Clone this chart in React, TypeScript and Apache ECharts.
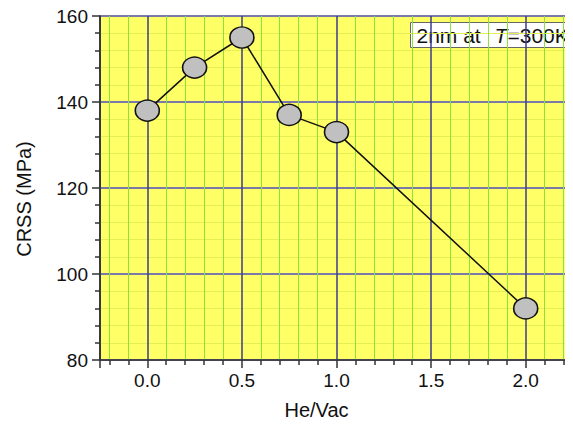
import React, { useEffect, useRef } from "react";
import * as echarts from "echarts";

const heVac = [0, 0.25, 0.5, 0.75, 1.0, 2.0];
const crss = [138, 148, 155, 137, 133, 92];
const xLabel = "He/Vac";
const yLabel = "CRSS (MPa)";

const FONT = "'Liberation Sans', Arial, sans-serif";

export default function App() {
  const ref = useRef<HTMLDivElement>(null);
  useEffect(() => {
    if (!ref.current) return;
    const chart = echarts.init(ref.current, null, { renderer: "svg" });
    const legendText = (text: string, x: number, italic = false) => ({
      type: "text",
      x,
      y: 13,
      style: {
        text,
        fontSize: 21,
        fontFamily: "Liberation Sans",
        fontStyle: italic ? "italic" : "normal",
        fill: "#111",
        verticalAlign: "middle",
        align: "left",
      },
    });
    const option: any = {
      animation: false,
      textStyle: { fontFamily: FONT },
      grid: {
        left: 100,
        right: -4,
        top: 16,
        bottom: 62,
        show: true,
        backgroundColor: "#ffff66",
        borderColor: "#333",
        borderWidth: 1.5,
        z: 0,
      },
      xAxis: {
        type: "value",
        min: -0.25,
        max: 2.25,
        splitNumber: 5,
        name: xLabel,
        nameLocation: "middle",
        nameGap: 40,
        nameTextStyle: { fontSize: 20, color: "#111", fontFamily: FONT, padding: [0, 40, 0, 0] },
        axisLine: { show: true, onZero: false, lineStyle: { color: "#333", width: 1.5 } },
        axisTick: { show: true, inside: false, length: 8, lineStyle: { color: "#333", width: 1.5 } },
        minorTick: { show: true, splitNumber: 5, length: 5, lineStyle: { color: "#333", width: 1.5 } },
        axisLabel: {
          fontSize: 19,
          color: "#111",
          fontFamily: FONT,
          margin: 11,
          showMinLabel: false,
          showMaxLabel: false,
          formatter: (v: number) => v.toFixed(1),
        },
        splitLine: { show: true, lineStyle: { color: "#3c3c8c", width: 1.5 } },
        minorSplitLine: { show: true, lineStyle: { color: "#8ee040", width: 1 } },
      },
      yAxis: {
        type: "value",
        min: 80,
        max: 160,
        interval: 20,
        name: yLabel,
        nameLocation: "middle",
        nameGap: 66,
        nameRotate: 90,
        nameTextStyle: { fontSize: 20, color: "#111", fontFamily: FONT, padding: [0, 22, 0, 0] },
        axisLine: { show: true, onZero: false, lineStyle: { color: "#333", width: 1.5 } },
        axisTick: { show: true, inside: false, length: 8, lineStyle: { color: "#333", width: 1.5 } },
        minorTick: { show: true, splitNumber: 5, length: 5, lineStyle: { color: "#333", width: 1.5 } },
        axisLabel: { fontSize: 19, color: "#111", fontFamily: FONT, margin: 12 },
        splitLine: { show: true, lineStyle: { color: "#7a7aa8", width: 2 } },
        minorSplitLine: { show: true, lineStyle: { color: "#e4ee55", width: 1 } },
      },
      series: [
        {
          type: "line",
          data: heVac.map((x, i) => [x, crss[i]]),
          symbol: "circle",
          symbolSize: [24, 21],
          showSymbol: true,
          lineStyle: { color: "#111", width: 1.5 },
          itemStyle: { color: "#c0c0c0", borderColor: "#111", borderWidth: 1.5 },
          z: 5,
        },
      ],
      graphic: [
        {
          type: "group",
          left: 410,
          top: 22,
          z: 10,
          children: [
            {
              type: "rect",
              shape: { x: 0, y: 0, width: 162, height: 25 },
              style: { fill: "#fff", stroke: "#666", lineWidth: 1 },
            },
            legendText("2nm at", 6),
            legendText("T", 84, true),
            legendText("=300K", 97),
          ],
        },
      ],
    };
    chart.setOption(option);
    return () => chart.dispose();
  }, []);
  return <div ref={ref} style={{ width: 573, height: 425, margin: -8 }} />;
}
